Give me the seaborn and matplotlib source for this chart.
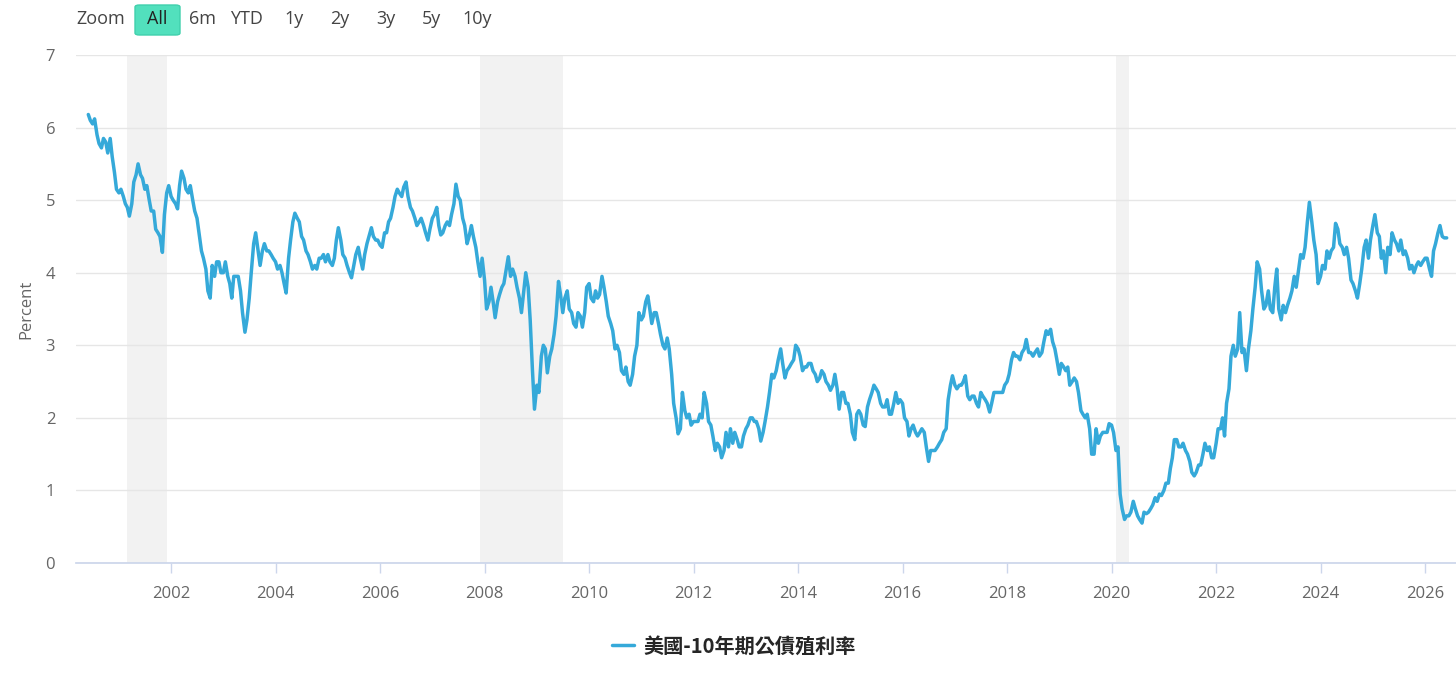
import pandas as pd
import matplotlib
matplotlib.use("Agg")
import matplotlib.pyplot as plt
import matplotlib.dates as mdates
from matplotlib.patches import FancyBboxPatch
import seaborn as sns

# US 10y yield, semi-monthly readings (1st / 15th), Jun 2000 -> Jun 2026
y2000 = [6.18, 6.10, 6.05, 6.12, 5.90, 5.78, 5.72, 5.85, 5.80, 5.65, 5.85, 5.60, 5.38, 5.15]
y2001 = [5.10, 5.15, 5.05, 4.95, 4.90, 4.78, 4.95, 5.25, 5.35, 5.50, 5.35, 5.30,
         5.15, 5.20, 5.00, 4.85, 4.85, 4.60, 4.55, 4.50, 4.28, 4.80, 5.10, 5.20]
y2002 = [5.05, 5.00, 4.95, 4.88, 5.20, 5.40, 5.30, 5.15, 5.10, 5.20, 5.00, 4.85,
         4.75, 4.55, 4.30, 4.20, 4.05, 3.75, 3.65, 4.10, 3.95, 4.15, 4.15, 4.00]
y2003 = [4.00, 4.15, 3.95, 3.85, 3.65, 3.95, 3.95, 3.95, 3.75, 3.45, 3.18, 3.35,
         3.65, 4.00, 4.40, 4.55, 4.30, 4.10, 4.30, 4.40, 4.30, 4.30, 4.25, 4.20]
y2004 = [4.15, 4.05, 4.10, 4.00, 3.85, 3.72, 4.20, 4.45, 4.70, 4.82, 4.75, 4.70,
         4.50, 4.45, 4.30, 4.25, 4.15, 4.05, 4.10, 4.05, 4.20, 4.20, 4.25, 4.15]
y2005 = [4.25, 4.15, 4.10, 4.20, 4.45, 4.62, 4.45, 4.25, 4.20, 4.10, 4.00, 3.93,
         4.10, 4.25, 4.35, 4.20, 4.05, 4.25, 4.40, 4.50, 4.62, 4.50, 4.45, 4.45]
y2006 = [4.38, 4.35, 4.55, 4.55, 4.70, 4.75, 4.90, 5.05, 5.15, 5.10, 5.05, 5.18,
         5.25, 5.05, 4.90, 4.85, 4.75, 4.65, 4.70, 4.75, 4.65, 4.55, 4.45, 4.60]
y2007 = [4.75, 4.80, 4.90, 4.65, 4.52, 4.55, 4.65, 4.70, 4.65, 4.80, 4.95, 5.22,
         5.05, 5.00, 4.75, 4.65, 4.40, 4.50, 4.65, 4.50, 4.35, 4.15, 3.95, 4.20]
y2008 = [3.90, 3.50, 3.60, 3.80, 3.60, 3.38, 3.60, 3.70, 3.80, 3.85, 4.05, 4.22,
         3.95, 4.05, 3.95, 3.80, 3.65, 3.45, 3.75, 4.00, 3.80, 3.35, 2.65, 2.12]
y2009 = [2.45, 2.35, 2.85, 3.00, 2.95, 2.62, 2.85, 2.95, 3.15, 3.40, 3.88, 3.70,
         3.45, 3.65, 3.75, 3.50, 3.45, 3.30, 3.25, 3.45, 3.40, 3.25, 3.45, 3.80]
y2010 = [3.85, 3.65, 3.60, 3.75, 3.65, 3.70, 3.95, 3.80, 3.60, 3.40, 3.30, 3.20,
         2.95, 3.00, 2.90, 2.65, 2.60, 2.70, 2.50, 2.45, 2.60, 2.85, 3.00, 3.45]
y2011 = [3.35, 3.40, 3.60, 3.68, 3.50, 3.30, 3.45, 3.45, 3.30, 3.15, 3.00, 2.95,
         3.10, 2.95, 2.60, 2.20, 2.00, 1.78, 1.85, 2.35, 2.10, 2.00, 2.05, 1.90]
y2012 = [1.95, 1.95, 1.95, 2.05, 2.00, 2.35, 2.20, 1.95, 1.90, 1.75, 1.55, 1.65,
         1.60, 1.45, 1.55, 1.80, 1.60, 1.85, 1.65, 1.80, 1.70, 1.60, 1.60, 1.75]
y2013 = [1.85, 1.90, 2.00, 2.00, 1.95, 1.95, 1.85, 1.68, 1.80, 1.95, 2.15, 2.35,
         2.60, 2.55, 2.65, 2.80, 2.95, 2.75, 2.55, 2.65, 2.70, 2.75, 2.80, 3.00]
y2014 = [2.95, 2.85, 2.65, 2.70, 2.70, 2.75, 2.75, 2.65, 2.60, 2.50, 2.55, 2.65,
         2.60, 2.50, 2.45, 2.38, 2.45, 2.60, 2.40, 2.12, 2.35, 2.35, 2.20, 2.20]
y2015 = [2.05, 1.80, 1.70, 2.05, 2.10, 2.05, 1.90, 1.88, 2.15, 2.25, 2.35, 2.45,
         2.40, 2.35, 2.20, 2.15, 2.15, 2.25, 2.05, 2.05, 2.20, 2.35, 2.20, 2.25]
y2016 = [2.20, 2.00, 1.95, 1.75, 1.85, 1.90, 1.80, 1.75, 1.80, 1.85, 1.80, 1.60,
         1.40, 1.55, 1.55, 1.55, 1.60, 1.65, 1.70, 1.80, 1.85, 2.25, 2.45, 2.58]
y2017 = [2.45, 2.40, 2.45, 2.45, 2.50, 2.58, 2.30, 2.25, 2.30, 2.30, 2.20, 2.15,
         2.35, 2.30, 2.25, 2.20, 2.08, 2.20, 2.35, 2.35, 2.35, 2.35, 2.35, 2.45]
y2018 = [2.50, 2.60, 2.80, 2.90, 2.85, 2.85, 2.80, 2.90, 2.95, 3.08, 2.90, 2.90,
         2.85, 2.90, 2.95, 2.85, 2.90, 3.05, 3.20, 3.15, 3.22, 3.05, 2.95, 2.80]
y2019 = [2.60, 2.75, 2.70, 2.65, 2.70, 2.45, 2.50, 2.55, 2.50, 2.35, 2.10, 2.05,
         2.00, 2.05, 1.85, 1.50, 1.50, 1.85, 1.65, 1.75, 1.80, 1.80, 1.80, 1.92]
y2020 = [1.90, 1.80, 1.55, 1.60, 0.95, 0.75, 0.60, 0.65, 0.65, 0.70, 0.85, 0.75,
         0.65, 0.60, 0.55, 0.70, 0.68, 0.70, 0.75, 0.80, 0.90, 0.85, 0.95, 0.93]
y2021 = [1.00, 1.10, 1.10, 1.30, 1.45, 1.70, 1.70, 1.60, 1.60, 1.65, 1.55, 1.50,
         1.40, 1.25, 1.20, 1.25, 1.35, 1.35, 1.50, 1.65, 1.55, 1.60, 1.45, 1.45]
y2022 = [1.65, 1.85, 1.85, 2.00, 1.75, 2.20, 2.40, 2.85, 3.00, 2.85, 2.95, 3.45,
         2.90, 2.95, 2.65, 2.95, 3.20, 3.50, 3.80, 4.15, 4.05, 3.75, 3.50, 3.55]
y2023 = [3.75, 3.50, 3.45, 3.80, 4.05, 3.50, 3.35, 3.55, 3.45, 3.55, 3.65, 3.75,
         3.95, 3.80, 4.05, 4.25, 4.20, 4.35, 4.70, 4.97, 4.70, 4.45, 4.25, 3.85]
y2024 = [3.95, 4.10, 4.05, 4.30, 4.20, 4.30, 4.35, 4.68, 4.60, 4.40, 4.35, 4.25,
         4.35, 4.20, 3.90, 3.85, 3.75, 3.65, 3.85, 4.05, 4.35, 4.45, 4.20, 4.45]
y2025 = [4.65, 4.80, 4.55, 4.50, 4.20, 4.30, 4.00, 4.35, 4.25, 4.55, 4.45, 4.40,
         4.30, 4.45, 4.25, 4.30, 4.20, 4.05, 4.10, 4.00, 4.10, 4.15, 4.10, 4.15]
y2026 = [4.20, 4.20, 4.05, 3.95, 4.30, 4.40, 4.55, 4.65, 4.50, 4.48, 4.48]

yields = (y2000 + y2001 + y2002 + y2003 + y2004 + y2005 + y2006 + y2007 + y2008
          + y2009 + y2010 + y2011 + y2012 + y2013 + y2014 + y2015 + y2016 + y2017
          + y2018 + y2019 + y2020 + y2021 + y2022 + y2023 + y2024 + y2025 + y2026)
dates = pd.date_range("2000-06-01", periods=len(yields), freq="SMS")
df = pd.DataFrame({"date": dates, "yield": yields})

recessions = [("2001-03-01", "2001-11-30"), ("2007-12-01", "2009-06-30"),
              ("2020-02-01", "2020-04-30")]
year_ticks = [str(y) for y in range(2002, 2027, 2)]
zoom_labels = ["6m", "YTD", "1y", "2y", "3y", "5y", "10y"]
series_name = "美國-10年期公債殖利率"

sns.set_theme(style="white")
plt.rcParams["font.family"] = ["Open Sans", "Noto Sans CJK TC", "DejaVu Sans"]

W, H = 1456, 678
fig = plt.figure(figsize=(W / 100, H / 100), dpi=100)
ax = fig.add_axes([76 / W, 1 - 563 / H, 1380 / W, 508 / H])

for a, b in recessions:
    ax.axvspan(pd.Timestamp(a), pd.Timestamp(b), color="#f2f2f2", lw=0, zorder=0)

sns.lineplot(data=df, x="date", y="yield", ax=ax, color="#35a9d9", lw=2.5,
             label=series_name, zorder=3)

ax.set_ylim(0, 7)
ax.set_yticks(range(0, 8))
ax.set_xlim(pd.Timestamp("2000-03-07"), pd.Timestamp("2026-08-05"))
ax.set_xticks([pd.Timestamp(t + "-01-01") for t in year_ticks])
ax.xaxis.set_major_formatter(mdates.DateFormatter("%Y"))
ax.grid(axis="y", color="#e6e6e6", lw=1)
ax.set_axisbelow(True)

for s in ["top", "right", "left"]:
    ax.spines[s].set_visible(False)
ax.spines["bottom"].set_color("#ccd6eb")
ax.tick_params(axis="x", length=7.5, width=1, color="#ccd6eb", pad=9,
               labelsize=12, labelcolor="#666666", bottom=True)
ax.tick_params(axis="y", length=0, pad=15, labelsize=12, labelcolor="#666666")

ax.set_xlabel("")
ax.set_ylabel("Percent", fontsize=12, color="#666666")
ax.yaxis.set_label_coords(-(76 - 34) / 1380, 0.5)

ax.legend(loc="center", bbox_to_anchor=(734 / W, 1 - 646 / H),
          bbox_transform=fig.transFigure, frameon=False, handlelength=1.1,
          handletextpad=0.45, prop={"family": ["Noto Sans CJK TC"], "weight": "bold", "size": 14.5})

# range selector buttons
fig.text(76 / W, 1 - 19 / H, "Zoom", ha="left", va="center", fontsize=13, color="#444444")
fig.patches.append(FancyBboxPatch((135 / W, 1 - 35 / H), 45 / W, 30 / H,
                                  boxstyle="round,pad=0,rounding_size=0.003",
                                  transform=fig.transFigure, fc="#52e0bd",
                                  ec="#40d0ac", lw=1, figure=fig))
fig.text(157.5 / W, 1 - 19 / H, "All", ha="center", va="center", fontsize=13, color="#222222")
for lab, xc in zip(zoom_labels, [203, 246, 294, 340, 386, 431, 477]):
    fig.text(xc / W, 1 - 19 / H, lab, ha="center", va="center", fontsize=13, color="#444444")

fig.savefig("out.png", dpi=100)
